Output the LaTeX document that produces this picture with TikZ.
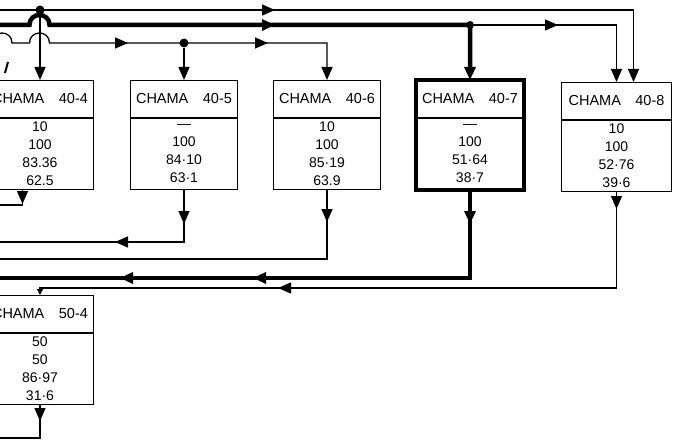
\documentclass[tikz,border=0pt]{standalone}
\usepackage{fontspec}
\setmainfont{Liberation Sans}
\usetikzlibrary{arrows.meta,positioning,decorations.markings}

\begin{document}
\begin{tikzpicture}[x=1pt, y=-1pt,
  flow/.style={line width=1.3pt},
  main/.style={line width=4.5pt},
  tip/.style={-{Triangle[length=13pt,width=11pt]}},
  smalltip/.style={-{Triangle[length=6pt,width=6pt]}},
  marr/.style={postaction={decorate,decoration={markings,
      mark=at position #1 with {\arrow{Triangle[length=13pt,width=11pt]}}}}},
  dot/.style={circle,fill,inner sep=0pt,minimum size=9pt},
  hdr/.style={draw,line width=1pt,anchor=north west,minimum width=107pt,
      minimum height=37pt,inner sep=0pt,font=\fontsize{14.5}{16}\selectfont},
  vals/.style={draw,line width=1pt,minimum width=107pt,minimum height=71pt,
      inner sep=2pt,align=center,font=\fontsize{14}{18}\selectfont},
]
  \useasboundingbox (0,0) rectangle (675,444);

  % boxes
  \node[hdr] (h404) at (-14,80) {CHAMA\hspace{1em}40-4};
  \node[vals, below=0pt of h404] (v404) {10\\100\\83.36\\62.5};
  \node[hdr] (h405) at (130,80) {CHAMA\hspace{1em}40-5};
  \node[vals, below=0pt of h405] (v405) {—\\100\\84·10\\63·1};
  \node[hdr] (h406) at (273,80) {CHAMA\hspace{1em}40-6};
  \node[vals, below=0pt of h406] (v406) {10\\100\\85·19\\63.9};
  \node[hdr] (h407) at (416,80) {CHAMA\hspace{1em}40-7};
  \node[vals, below=0pt of h407] (v407) {—\\100\\51·64\\38·7};
  \draw[line width=4pt] (h407.north west) rectangle (v407.south east);
  \node[hdr, minimum width=110pt] (h408) at (561,82) {CHAMA\hspace{1em}40-8};
  \node[vals, minimum width=110pt, below=0pt of h408] (v408) {10\\100\\52·76\\39·6};
  \node[hdr] (h504) at (-14,295) {CHAMA\hspace{1em}50-4};
  \node[vals, below=0pt of h504] (v504) {50\\50\\86·97\\31·6};

  % feeds on top
  \coordinate (w1) at (0,10);
  \coordinate (w2) at (0,25);
  \coordinate (w3) at (-20,43);
  \coordinate (r1x) at ([xshift=17pt]h408.north);
  \draw[flow,tip,marr=275pt] (w1) -- (r1x |- w1) -- (r1x);
  \node[dot] (j1) at (h404.north |- w1) {};
  \draw[flow,tip] (j1) -- (h404);

  \node[dot, minimum size=8pt] (j2) at (h407.north |- w2) {};
  \draw[main,tip,marr=-250pt] (w2) -- (29.5,25) .. controls (29.5,11.7) and (49.5,11.7) .. (49.5,25)
    -- (j2.center) -- (h407.north);
  \draw[flow,tip,marr=88pt] (j2.center) -- (h408.north |- w2) -- (h408.north);

  \node[dot] (j3) at (h405.north |- w3) {};
  \draw[flow,tip,marr=-236pt,marr=-96pt] (w3) -- (-8,43) .. controls (-8,29.7) and (12,29.7) .. (12,43)
    -- (29.5,43) .. controls (29.5,29.7) and (49.5,29.7) .. (49.5,43)
    -- (h406.north |- w3) -- (h406.north);
  \draw[flow,tip] (j3) -- (h405);
  \draw[line width=2pt] (8,62) -- (5,73);

  % returns below
  \coordinate (l4) at (-20,205);
  \coordinate (b4) at ([xshift=-17.5pt]v404.south);
  \draw[flow,marr=14pt] (b4) -- (b4 |- l4) -- (l4);
  \coordinate (l5) at (-20,242);
  \draw[flow,marr=34pt,marr=-135pt] (v405.south) -- (v405.south |- l5) -- (l5);
  \coordinate (l6) at (-20,259);
  \draw[flow,marr=32pt] (v406.south) -- (v406.south |- l6) -- (l6);
  \coordinate (l7) at (-20,278);
  \draw[main,marr=34pt,marr=-273pt,marr=-140pt] (v407.south) -- (v407.south |- l7) -- (l7);
  \coordinate (y8) at (0,288);
  \draw[flow,smalltip,marr=17pt,marr=-245pt] (v408.south) -- (v408.south |- y8)
    -- (h504.north |- y8) -- (h504.north);
  \coordinate (l9) at (-20,438);
  \draw[flow,marr=16pt] (v504.south) -- (v504.south |- l9) -- (l9);
\end{tikzpicture}
\end{document}
